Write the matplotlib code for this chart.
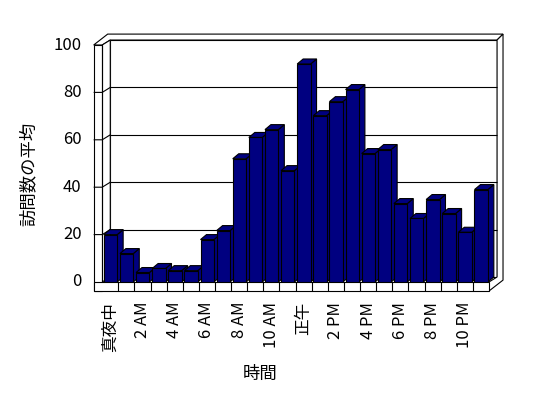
import matplotlib
matplotlib.use('Agg')
import matplotlib.pyplot as plt

plt.rcParams['font.family'] = ['Noto Sans CJK JP', 'DejaVu Sans']

# average visits per hour
hours = list(range(24))
visits = [20, 12, 4, 5.7, 4.8, 4.8, 17.9, 21.7, 52, 61, 64.3, 47,
          92, 70.2, 76.1, 81.2, 54.2, 55.9, 33.1, 26.8, 34.8, 28.9, 21, 39]
tick_labels = ['真夜中', '2 AM', '4 AM', '6 AM', '8 AM', '10 AM',
               '正午', '2 PM', '4 PM', '6 PM', '8 PM', '10 PM']
y_ticks = [0, 20, 40, 60, 80, 100]

navy = '#000080'
lw = 0.8

fig = plt.figure(figsize=(5.48, 3.98), dpi=100)
ax = fig.add_axes([102.2 / 548, 116 / 398, 386.8 / 548, 237 / 398])
ax.set_xlim(0, 24)
ax.set_ylim(0, 100)
ax.axis('off')

n = len(hours)
top = 100
wall = 0.53      # left wall thickness (x units)
floor = 3.8      # floor thickness (y units)
dx1, dy1 = 0.5, 2.1    # depth to back wall inner face
dx2, dy2 = 0.87, 4.6   # depth to back wall outer face
bdx, bdy = 0.37, 2.1   # bar depth


def poly(pts, z=1, fc='white'):
    xs = [p[0] for p in pts]
    ys = [p[1] for p in pts]
    ax.fill(xs, ys, facecolor=fc, edgecolor='black', linewidth=lw,
            zorder=z, clip_on=False)


def line(x, y, z=2):
    ax.plot(x, y, color='black', linewidth=lw, zorder=z, clip_on=False,
            solid_capstyle='butt')


# back wall inner face
poly([(dx1, dy1), (n + dx1, dy1), (n + dx1, top + dy1), (dx1, top + dy1)])
# back wall top + right thickness
poly([(-wall + dx2, top + dy2), (n + dx2, top + dy2), (n + dx1, top + dy1),
      (dx1, top + dy1), (0, top), (-wall, top)])
poly([(n, -floor), (n + dx2, -floor + dy2), (n + dx2, top + dy2),
      (n + dx1, top + dy1), (n + dx1, dy1), (n, 0)])
# left wall inner face and front edge
poly([(0, 0), (0, top), (dx1, top + dy1), (dx1, dy1)])
poly([(-wall, -floor), (0, -floor), (0, top), (-wall, top)])
# floor front face
poly([(-wall, -floor), (n, -floor), (n, 0), (-wall, 0)])
line([0, 0], [0, top])
for k in range(1, n):
    line([k, k], [-floor, 0])

# gridlines
for v in y_ticks[1:-1]:
    line([dx1, n + dx1], [v + dy1, v + dy1])
    line([-wall, 0, dx1], [v, v, v + dy1])

# bars with top and side faces
for i, v in enumerate(visits):
    x0 = hours[i] + 0.1
    x1 = x0 + 0.83
    poly([(x1, 0), (x1 + bdx, bdy), (x1 + bdx, v + bdy), (x1, v)], z=5, fc=navy)
    poly([(x0, v), (x1, v), (x1 + bdx, v + bdy), (x0 + bdx, v + bdy)], z=5, fc=navy)
    ax.bar([x0], [v], width=0.83, align='edge', color=navy,
           edgecolor='black', linewidth=lw, zorder=5)

# tick labels
for v in y_ticks:
    ax.text(-1.27, v, str(v), ha='right', va='center', fontsize=12)
for j, lab in enumerate(tick_labels):
    ax.text(hours[j * 2] + 0.5, -8.4, lab, rotation=90, ha='center',
            va='top', fontsize=12)

fig.text(28.5 / 548, 1 - 174 / 398, '訪問数の平均', rotation=90,
         ha='center', va='center', fontsize=12.5)
fig.text(260 / 548, 1 - 373.5 / 398, '時間', ha='center', va='center',
         fontsize=12.5)

fig.savefig('out.png', dpi=100, facecolor='white')
